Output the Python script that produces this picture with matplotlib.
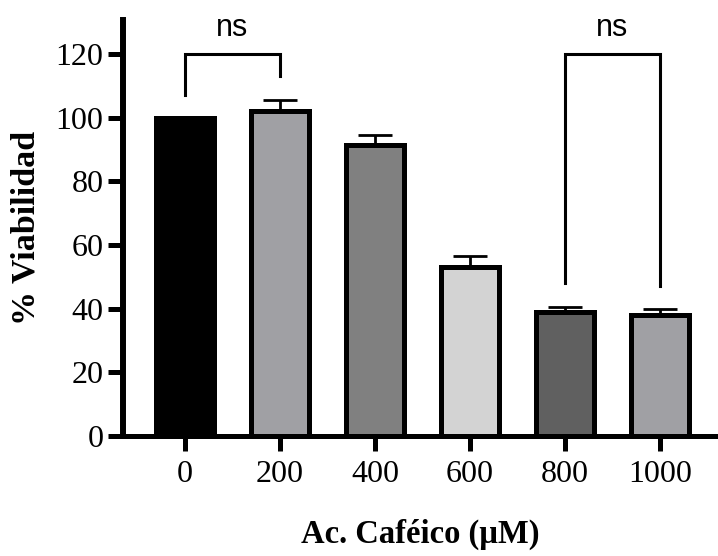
import numpy as np
import matplotlib
matplotlib.use("Agg")
import matplotlib.pyplot as plt

# data
doses = ['0', '200', '400', '600', '800', '1000']
viab = [100, 102, 91.5, 53, 39, 38]
err = [0, 3.5, 3, 3.5, 1.5, 2]
fills = ['#000000', '#A0A0A4', '#808080', '#D3D3D3', '#606060', '#A0A0A4']

# significance brackets: (i, j, top, left leg end, right leg end, text)
brackets = [(0, 1, 120, 107, 113, 'ns'),
            (4, 5, 120, 48, 47, 'ns')]

serif = 'Liberation Serif'
fig = plt.figure(figsize=(7.18, 5.56), dpi=100)
ax = fig.add_axes([123/718, (556-436)/556, 1 - 123/718, 416/556])

x = np.arange(len(doses))
ax.bar(x, viab, width=0.61, color=fills, edgecolor='black', linewidth=3.6, zorder=3)
ax.errorbar(x, viab, yerr=[np.zeros(len(err)), err], fmt='none', ecolor='black',
            elinewidth=2, capsize=12, capthick=2, zorder=2)

for i, j, top, l, r, txt in brackets:
    ax.plot([i, i, j, j], [l, top, top, r], color='black', lw=2.2,
            solid_joinstyle='miter', clip_on=False)
    ax.text((i + j) / 2, top + 3.5, txt, ha='center', va='bottom',
            fontsize=22, family='Liberation Sans')

ax.set_xlim(-0.653, 5.61)
ax.set_ylim(0, 130.7)
ax.set_yticks(range(0, 121, 20))
ax.set_xticks(x)
ax.set_xticklabels(doses)
for s in ['top', 'right']:
    ax.spines[s].set_visible(False)
ax.spines['left'].set_linewidth(4.3)
ax.spines['bottom'].set_linewidth(3.6)
ax.tick_params(axis='both', width=3.6, length=11, labelsize=23)
ax.tick_params(axis='y', pad=3)
ax.tick_params(axis='x', pad=6)
for lab in ax.get_xticklabels() + ax.get_yticklabels():
    lab.set_family(serif)

ax.set_ylabel('% Viabilidad', fontsize=24.5, fontweight='bold', family=serif, labelpad=10)
ax.set_xlabel('Ac. Caféico (µM)', fontsize=23.5, fontweight='bold', family=serif, labelpad=22)

fig.savefig('out.png', dpi=100)
